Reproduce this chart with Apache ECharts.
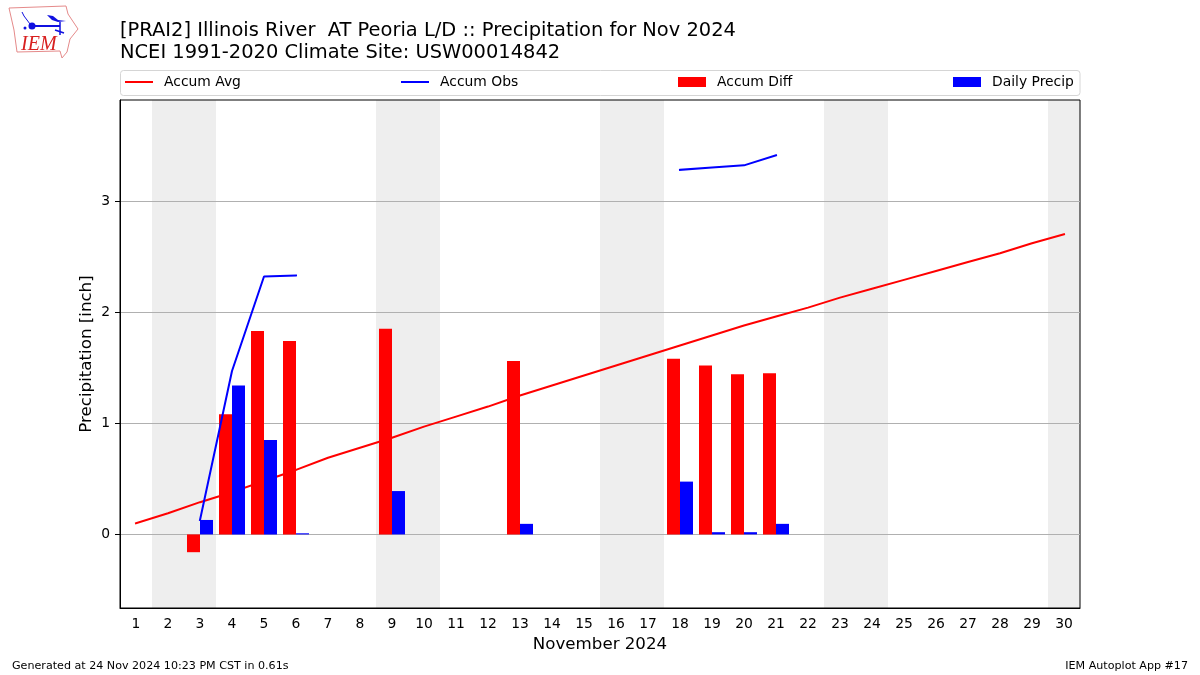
<!DOCTYPE html>
<html><head><meta charset="utf-8">
<style>html,body{margin:0;padding:0;background:#fff}#c{width:1200px;height:675px}</style>
<script src="https://cdn.jsdelivr.net/npm/echarts@6/dist/echarts.min.js"></script>
</head><body><div id="c"></div>
<script>
const days = ['1','2','3','4','5','6','7','8','9','10','11','12','13','14','15','16','17','18','19','20','21','22','23','24','25','26','27','28','29','30'];
const accumAvg = [0.10,0.19,0.29,0.38,0.48,0.58,0.69,0.78,0.87,0.97,1.06,1.15,1.25,1.34,1.43,1.52,1.61,1.70,1.79,1.88,1.96,2.04,2.13,2.21,2.29,2.37,2.45,2.53,2.62,2.70];
const accumObs = [null,null,0.13,1.47,2.32,2.33,null,null,2.72,null,null,null,2.81,null,null,null,null,3.28,3.30,3.32,3.41,null,null,null,null,null,null,null,null,null];
const accumDiff = [null,null,-0.16,1.08,1.83,1.74,null,null,1.85,null,null,null,1.56,null,null,null,null,1.58,1.52,1.44,1.45,null,null,null,null,null,null,null,null,null];
const dailyPrecip = [null,null,0.13,1.34,0.85,0.01,null,null,0.39,null,null,null,0.095,null,null,null,null,0.475,0.02,0.02,0.095,null,null,null,null,null,null,null,null,null];
const weekends = [[1.5,3.5],[8.5,10.5],[15.5,17.5],[22.5,24.5],[29.5,30.5]];
const yTicks = [0,1,2,3];
const titleText = '[PRAI2] Illinois River  AT Peoria L/D :: Precipitation for Nov 2024\nNCEI 1991-2020 Climate Site: USW00014842';
const FONT = 'DejaVu Sans';

const legendAt = (name, left, color, h) => ({
  show: true, data: [{name, icon: 'rect', itemStyle: {color}}], left, top: 75, itemWidth: 28, itemHeight: h, itemGap: 0, padding: 0,
  textStyle: {fontFamily: FONT, fontSize: 13.89, color: '#000', padding: [0,0,0,6]}, selectedMode: false
});

const chart = echarts.init(document.getElementById('c'), null, {renderer: 'canvas'});
chart.setOption({
  animation: false,
  backgroundColor: '#fff',
  textStyle: {fontFamily: FONT},
  title: {text: titleText, left: 120, top: 20, padding: 0, textStyle: {fontFamily: FONT, fontSize: 19.44, fontWeight: 'normal', color: '#000', lineHeight: 22}},
  legend: [
    legendAt('Accum Avg', 125, '#ff0000', 2),
    legendAt('Accum Obs', 401, '#0000ff', 2),
    legendAt('Accum Diff', 678, '#ff0000', 10),
    legendAt('Daily Precip', 953, '#0000ff', 10)
  ],
  grid: {left: 120, right: 120, top: 100, height: 508, show: true, borderColor: '#000', borderWidth: 1, backgroundColor: 'transparent', containLabel: false},
  xAxis: [
    {type: 'category', data: days, boundaryGap: true, name: 'November 2024', nameLocation: 'middle', nameGap: 28,
     nameTextStyle: {fontFamily: FONT, fontSize: 16.67, color: '#000'},
     axisLine: {onZero: false, lineStyle: {color: '#000', width: 1}},
     axisTick: {alignWithLabel: true, length: 5, lineStyle: {color: '#000'}},
     axisLabel: {interval: 0, fontFamily: FONT, fontSize: 13.89, color: '#000', margin: 9},
     splitLine: {show: false}},
    {type: 'value', min: 0.5, max: 30.5, show: false, splitLine: {show: false}}
  ],
  yAxis: {type: 'value', min: -0.662, max: 3.908, name: 'Precipitation [inch]', nameLocation: 'middle', nameGap: 25, nameMoveOverlap: false,
    nameTextStyle: {fontFamily: FONT, fontSize: 16.67, color: '#000'},
    axisLine: {show: true, lineStyle: {color: '#000', width: 1}},
    axisTick: {show: true, length: 5, lineStyle: {color: '#000'}, customValues: yTicks},
    axisLabel: {fontFamily: FONT, fontSize: 13.89, color: '#000', margin: 10, customValues: yTicks},
    splitLine: {show: true, lineStyle: {color: '#b0b0b0', width: 1}}},
  series: [
    {type: 'line', name: 'shade', xAxisIndex: 1, data: [], z: 0, silent: true, legendHoverLink: false,
     markArea: {silent: true, z: -1, itemStyle: {color: '#eeeeee'}, label: {show: false},
       data: weekends.map(w => [{xAxis: w[0]}, {xAxis: w[1]}])}},
    {type: 'line', name: 'Accum Avg', data: accumAvg, symbol: 'none', z: 2, lineStyle: {color: '#ff0000', width: 2, cap: 'square'}, itemStyle: {color: '#ff0000'}},
    {type: 'line', name: 'Accum Obs', data: accumObs, symbol: 'none', z: 4, connectNulls: false, lineStyle: {color: '#0000ff', width: 2, cap: 'square'}, itemStyle: {color: '#0000ff'}},
    {type: 'bar', name: 'Accum Diff', data: accumDiff, barWidth: 13, barGap: '0%', z: 3, itemStyle: {color: '#ff0000'}},
    {type: 'bar', name: 'Daily Precip', data: dailyPrecip, barWidth: 13, barGap: '0%', z: 3, itemStyle: {color: '#0000ff'}}
  ],
  graphic: [
    {type: 'rect', z: -5, shape: {x: 120.5, y: 70.5, width: 959.5, height: 25, r: 3}, style: {fill: '#fff', stroke: '#d5d5d5', lineWidth: 1}},
    {type: 'text', left: 12, top: 661, style: {text: 'Generated at 24 Nov 2024 10:23 PM CST in 0.61s', font: '11.11px "DejaVu Sans"', fill: '#000'}},
    {type: 'text', right: 12, top: 661, style: {text: 'IEM Autoplot App #17', font: '11.11px "DejaVu Sans"', fill: '#000'}},
    {type: 'polygon', shape: {points: [[9,8],[66,6],[68,14],[78,29],[70,39],[67,52],[62,58],[60,51],[17,52],[14,30]]}, style: {fill: 'none', stroke: '#e58a8a', lineWidth: 1}},
    {type: 'line', shape: {x1: 32, y1: 26, x2: 60, y2: 26}, style: {stroke: '#1010e0', lineWidth: 2}},
    {type: 'circle', shape: {cx: 32, cy: 26, r: 3.5}, style: {fill: '#1010e0'}},
    {type: 'polygon', shape: {points: [[47,15],[53,16],[58,20],[66,21],[58,22],[52,20]]}, style: {fill: '#1010e0'}},
    {type: 'line', shape: {x1: 60, y1: 22, x2: 60, y2: 35}, style: {stroke: '#1010e0', lineWidth: 1.5}},
    {type: 'polyline', shape: {points: [[22,12],[24,16],[30,24]]}, style: {fill: 'none', stroke: '#1010e0', lineWidth: 1}},
    {type: 'line', shape: {x1: 55, y1: 30, x2: 64, y2: 33}, style: {stroke: '#1010e0', lineWidth: 1.5}},
    {type: 'circle', shape: {cx: 25, cy: 28, r: 1.5}, style: {fill: '#1010e0'}},
    {type: 'text', left: 21, top: 35, style: {text: 'IEM', font: 'italic 20px "Liberation Serif"', fill: '#d82020'}}
  ]
});
</script></body></html>
